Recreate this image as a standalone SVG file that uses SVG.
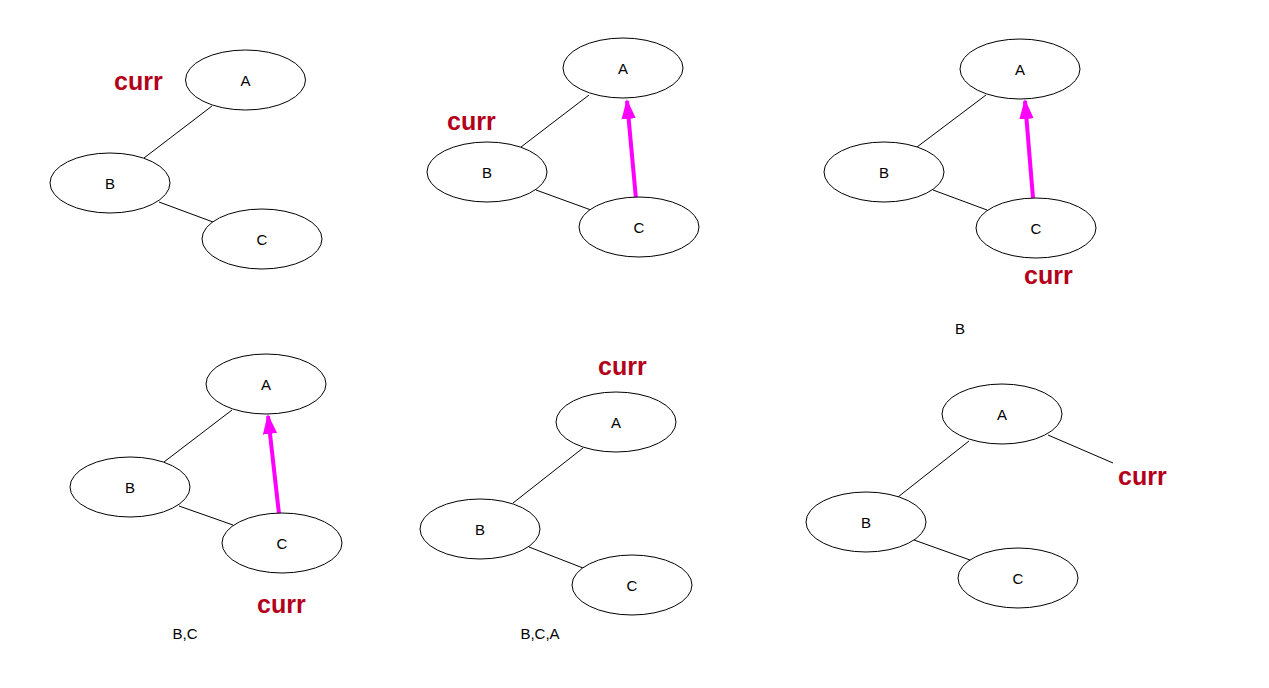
<svg xmlns="http://www.w3.org/2000/svg" width="1269" height="688" viewBox="0 0 1269 688">
<style>
  .node ellipse { fill: #ffffff; stroke: #000000; stroke-width: 1; }
  .node text { font-family: "Liberation Sans", Arial, sans-serif; font-size: 15px; fill: #000000; text-anchor: middle; }
  .edge { stroke: #000000; stroke-width: 1; fill: none; }
  .ptr { stroke: #ff00ff; stroke-width: 4; fill: none; marker-end: url(#mag); }
  .curr { font-family: "Liberation Sans", Arial, sans-serif; font-size: 25px; font-weight: bold; fill: #b3001b; }
  .lbl { font-family: "Liberation Sans", Arial, sans-serif; font-size: 15px; fill: #000000; text-anchor: middle; }
</style>
<defs>
  <marker id="mag" viewBox="0 0 10 10" refX="9" refY="5" markerWidth="5" markerHeight="3.6" orient="auto" markerUnits="strokeWidth" preserveAspectRatio="none">
    <path d="M0,0 L10,5 L0,10 z" fill="#ff00ff"/>
  </marker>
</defs>
<rect x="0" y="0" width="1269" height="688" fill="#ffffff"/>

<g id="connectors">
  <!-- panel 1 -->
  <line class="edge" x1="212" y1="106" x2="144" y2="158"/>
  <line class="edge" x1="159" y1="202" x2="213" y2="222"/>
  <!-- panel 2 -->
  <line class="edge" x1="589" y1="95" x2="521" y2="147"/>
  <line class="edge" x1="536" y1="190" x2="591" y2="210"/>
  <line class="ptr" x1="636" y1="199" x2="627" y2="101"/>
  <!-- panel 3 -->
  <line class="edge" x1="986" y1="95" x2="917" y2="147"/>
  <line class="edge" x1="933" y1="190" x2="987" y2="210"/>
  <line class="ptr" x1="1033" y1="198" x2="1025" y2="101"/>
  <!-- panel 4 -->
  <line class="edge" x1="232" y1="410" x2="164" y2="462"/>
  <line class="edge" x1="179" y1="506" x2="233" y2="525"/>
  <line class="ptr" x1="279" y1="514" x2="268" y2="416"/>
  <!-- panel 5 -->
  <line class="edge" x1="583" y1="448" x2="513" y2="503"/>
  <line class="edge" x1="529" y1="547" x2="583" y2="568"/>
  <!-- panel 6 -->
  <line class="edge" x1="969" y1="441" x2="898" y2="497"/>
  <line class="edge" x1="914" y1="540" x2="970" y2="560"/>
  <line class="edge" x1="1048" y1="435" x2="1113" y2="463"/>
</g>

<!-- panel 1 -->
<g id="p1-A" class="node"><ellipse cx="245.5" cy="80" rx="60" ry="30"/><text x="245.5" y="85.5">A</text></g>
<g id="p1-B" class="node"><ellipse cx="110" cy="183" rx="60" ry="30"/><text x="110" y="188.5">B</text></g>
<g id="p1-C" class="node"><ellipse cx="262" cy="239" rx="60" ry="30"/><text x="262" y="244.5">C</text></g>
<text class="curr" x="114" y="90">curr</text>

<!-- panel 2 -->
<g id="p2-A" class="node"><ellipse cx="623" cy="68" rx="60" ry="30"/><text x="623" y="73.5">A</text></g>
<g id="p2-B" class="node"><ellipse cx="487" cy="172" rx="60" ry="30"/><text x="487" y="177.5">B</text></g>
<g id="p2-C" class="node"><ellipse cx="639" cy="227" rx="60" ry="30"/><text x="639" y="232.5">C</text></g>
<text class="curr" x="447" y="130">curr</text>

<!-- panel 3 -->
<g id="p3-A" class="node"><ellipse cx="1020" cy="69" rx="60" ry="30"/><text x="1020" y="74.5">A</text></g>
<g id="p3-B" class="node"><ellipse cx="884" cy="172" rx="60" ry="30"/><text x="884" y="177.5">B</text></g>
<g id="p3-C" class="node"><ellipse cx="1036" cy="228" rx="60" ry="30"/><text x="1036" y="233.5">C</text></g>
<text class="curr" x="1024" y="284">curr</text>
<text class="lbl" x="960" y="334">B</text>

<!-- panel 4 -->
<g id="p4-A" class="node"><ellipse cx="266" cy="384" rx="60" ry="30"/><text x="266" y="389.5">A</text></g>
<g id="p4-B" class="node"><ellipse cx="130" cy="487" rx="60" ry="30"/><text x="130" y="492.5">B</text></g>
<g id="p4-C" class="node"><ellipse cx="282" cy="543" rx="60" ry="30"/><text x="282" y="548.5">C</text></g>
<text class="curr" x="257" y="613">curr</text>
<text class="lbl" x="185" y="639">B,C</text>

<!-- panel 5 -->
<g id="p5-A" class="node"><ellipse cx="616" cy="422" rx="60" ry="30"/><text x="616" y="427.5">A</text></g>
<g id="p5-B" class="node"><ellipse cx="480" cy="529" rx="60" ry="30"/><text x="480" y="534.5">B</text></g>
<g id="p5-C" class="node"><ellipse cx="632" cy="585" rx="60" ry="30"/><text x="632" y="590.5">C</text></g>
<text class="curr" x="598" y="375">curr</text>
<text class="lbl" x="540" y="639">B,C,A</text>

<!-- panel 6 -->
<g id="p6-A" class="node"><ellipse cx="1002" cy="414" rx="60" ry="30"/><text x="1002" y="419.5">A</text></g>
<g id="p6-B" class="node"><ellipse cx="866" cy="522" rx="60" ry="30"/><text x="866" y="527.5">B</text></g>
<g id="p6-C" class="node"><ellipse cx="1018" cy="578" rx="60" ry="30"/><text x="1018" y="583.5">C</text></g>
<text class="curr" x="1118" y="485">curr</text>
</svg>
